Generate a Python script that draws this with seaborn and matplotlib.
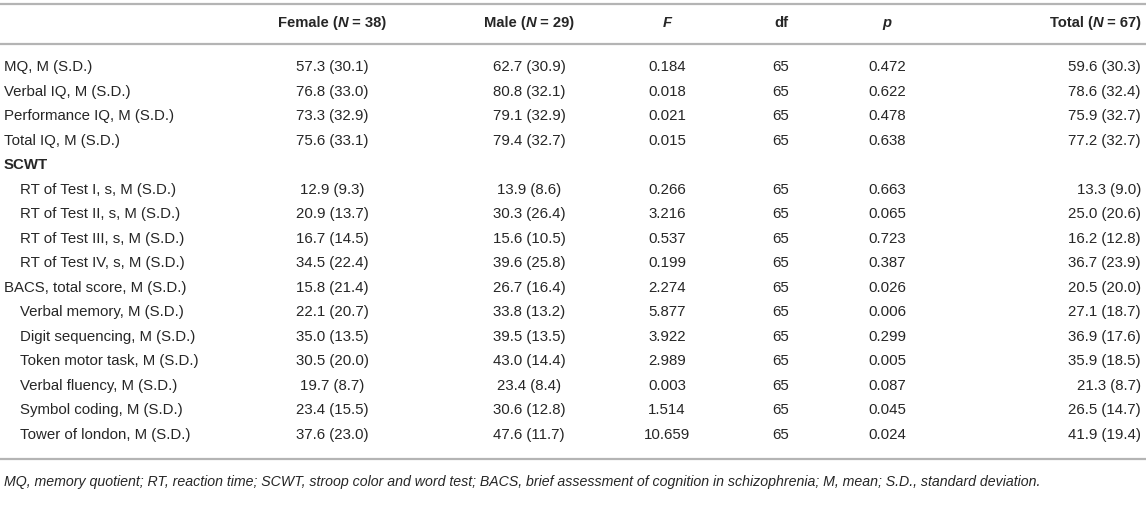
import matplotlib
matplotlib.use("Agg")
import matplotlib.pyplot as plt
import seaborn as sns

# ---------------- data ----------------
row_labels = [
    "MQ, M (S.D.)", "Verbal IQ, M (S.D.)", "Performance IQ, M (S.D.)", "Total IQ, M (S.D.)",
    "SCWT",
    "RT of Test I, s, M (S.D.)", "RT of Test II, s, M (S.D.)", "RT of Test III, s, M (S.D.)",
    "RT of Test IV, s, M (S.D.)",
    "BACS, total score, M (S.D.)", "Verbal memory, M (S.D.)", "Digit sequencing, M (S.D.)",
    "Token motor task, M (S.D.)", "Verbal fluency, M (S.D.)", "Symbol coding, M (S.D.)",
    "Tower of london, M (S.D.)",
]
row_indent = [0, 0, 0, 0, 0, 1, 1, 1, 1, 0, 1, 1, 1, 1, 1, 1]
row_bold = [0, 0, 0, 0, 1, 0, 0, 0, 0, 0, 0, 0, 0, 0, 0, 0]
female = ["57.3 (30.1)", "76.8 (33.0)", "73.3 (32.9)", "75.6 (33.1)", "",
          "12.9 (9.3)", "20.9 (13.7)", "16.7 (14.5)", "34.5 (22.4)",
          "15.8 (21.4)", "22.1 (20.7)", "35.0 (13.5)", "30.5 (20.0)", "19.7 (8.7)",
          "23.4 (15.5)", "37.6 (23.0)"]
male = ["62.7 (30.9)", "80.8 (32.1)", "79.1 (32.9)", "79.4 (32.7)", "",
        "13.9 (8.6)", "30.3 (26.4)", "15.6 (10.5)", "39.6 (25.8)",
        "26.7 (16.4)", "33.8 (13.2)", "39.5 (13.5)", "43.0 (14.4)", "23.4 (8.4)",
        "30.6 (12.8)", "47.6 (11.7)"]
f_vals = ["0.184", "0.018", "0.021", "0.015", "",
          "0.266", "3.216", "0.537", "0.199",
          "2.274", "5.877", "3.922", "2.989", "0.003", "1.514", "10.659"]
df_vals = ["65", "65", "65", "65", "",
           "65", "65", "65", "65",
           "65", "65", "65", "65", "65", "65", "65"]
p_vals = ["0.472", "0.622", "0.478", "0.638", "",
          "0.663", "0.065", "0.723", "0.387",
          "0.026", "0.006", "0.299", "0.005", "0.087", "0.045", "0.024"]
total = ["59.6 (30.3)", "78.6 (32.4)", "75.9 (32.7)", "77.2 (32.7)", "",
         "13.3 (9.0)", "25.0 (20.6)", "16.2 (12.8)", "36.7 (23.9)",
         "20.5 (20.0)", "27.1 (18.7)", "36.9 (17.6)", "35.9 (18.5)", "21.3 (8.7)",
         "26.5 (14.7)", "41.9 (19.4)"]
headers = [
    [("Female (", "bold", "normal"), ("N", "bold", "italic"), (" = 38)", "bold", "normal")],
    [("Male (", "bold", "normal"), ("N", "bold", "italic"), (" = 29)", "bold", "normal")],
    [("F", "bold", "italic")],
    [("df", "bold", "normal")],
    [("p", "bold", "italic")],
    [("Total (", "bold", "normal"), ("N", "bold", "italic"), (" = 67)", "bold", "normal")],
]
footnote = ("MQ, memory quotient; RT, reaction time; SCWT, stroop color and word test; "
            "BACS, brief assessment of cognition in schizophrenia; M, mean; S.D., standard deviation.")

# ---------------- layout ----------------
W, H = 1146, 521
sns.set_theme(style="white")
plt.rcParams["font.family"] = ["Liberation Sans", "DejaVu Sans"]
TXT = "#262626"
FS = 10.8
FS_H = 10.6

fig = plt.figure(figsize=(W / 100, H / 100), dpi=100)
ax = fig.add_axes([0, 0, 1, 1])
ax.set_xlim(0, W)
ax.set_ylim(H, 0)
ax.axis("off")

col_x = [332, 529, 667, 781, 887, 1141]
col_ha = ["center", "center", "center", "center", "center", "right"]
header_y = 23
row_y0, row_dy = 67, 24.53

for yline in (4, 44, 459):
    ax.axhline(yline, color="#b4b4b4", lw=1.6, xmin=0, xmax=1)

renderer = fig.canvas.get_renderer()


def draw_runs(runs, x, y, ha):
    widths = []
    for s, w, st in runs:
        t = ax.text(0, 0, s, fontsize=FS_H, fontweight=w, fontstyle=st)
        bb = t.get_window_extent(renderer=renderer)
        widths.append(bb.width)
        t.remove()
    tw = sum(widths)
    start = x - tw / 2 if ha == "center" else (x - tw if ha == "right" else x)
    cur = start
    for (s, w, st), wd in zip(runs, widths):
        ax.text(cur, y, s, fontsize=FS_H, fontweight=w, fontstyle=st, ha="left",
                va="center", color=TXT)
        cur += wd


for hdr, x, ha in zip(headers, col_x, col_ha):
    draw_runs(hdr, x, header_y, ha)

cols = [female, male, f_vals, df_vals, p_vals, total]
for i, lab in enumerate(row_labels):
    y = row_y0 + i * row_dy
    ax.text(4 + 16 * row_indent[i], y, lab, fontsize=FS,
            fontweight="bold" if row_bold[i] else "normal",
            ha="left", va="center", color=TXT)
    for col, x, ha in zip(cols, col_x, col_ha):
        if col[i]:
            ax.text(x, y, col[i], fontsize=FS, ha=ha, va="center", color=TXT)

ax.text(4, 482, footnote, fontsize=10.2, fontstyle="italic", ha="left", va="center", color=TXT)

fig.savefig("out.png", dpi=100)
